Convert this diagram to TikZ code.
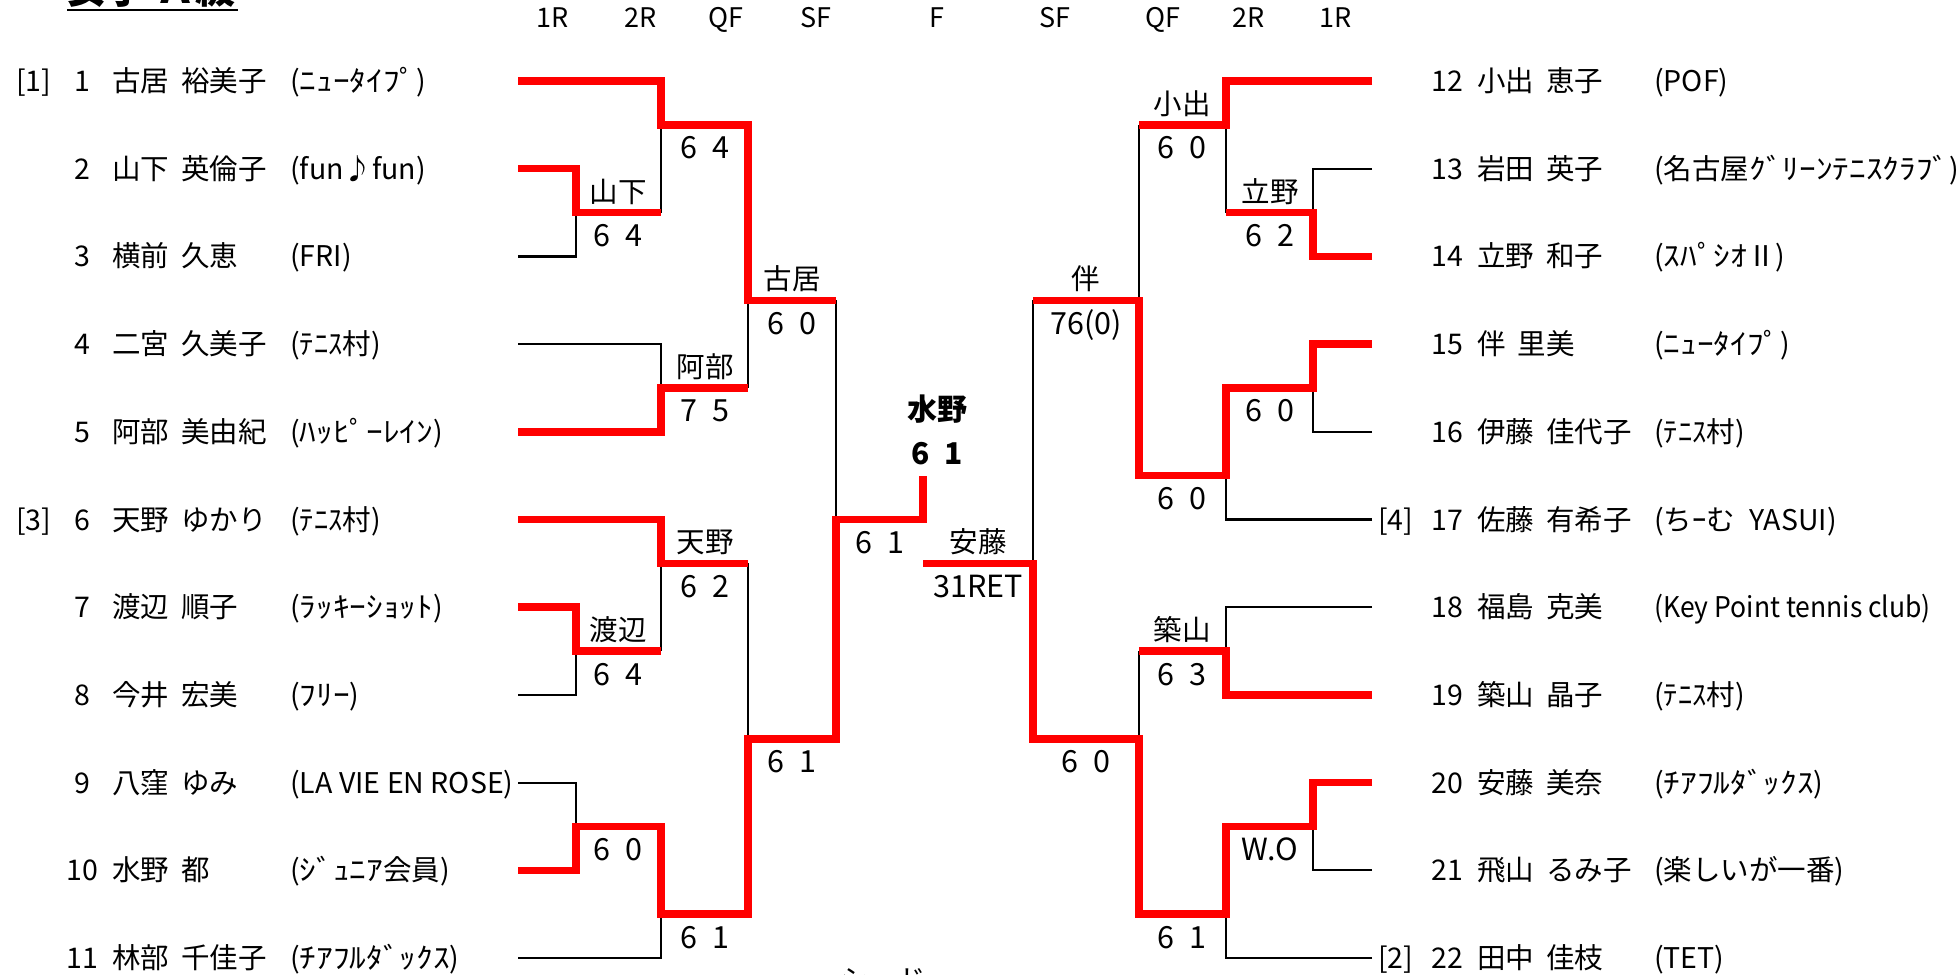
\documentclass[tikz,border=0pt]{standalone}
\usepackage{fontspec}
\setmainfont{Noto Sans CJK JP}
\newcommand\ky[1]{81+43.85*#1}
\newcommand\gap{\hspace{12pt}}
\newcommand\sg[2]{#1\hspace{15pt}#2}
\newcommand\hw[1]{\scalebox{1.17}[1]{#1}}
\tikzset{
  redl/.style={draw=red, line width=7.5pt, line join=miter},
  blkl/.style={draw=black, line width=2.2pt},
  nm/.style={anchor=base west, inner sep=0pt, font=\fontsize{28.5}{30}\selectfont},
  num/.style={anchor=base, inner sep=0pt, font=\fontsize{28.5}{30}\selectfont},
  lab/.style={anchor=base, inner sep=0pt, font=\fontsize{28.5}{30}\selectfont},
  scr/.style={anchor=base, inner sep=0pt, font=\fontsize{30.5}{32}\selectfont},
  hdr/.style={anchor=base, inner sep=0pt, font=\fontsize{27}{29}\selectfont},
  fin/.style={anchor=base, inner sep=0pt, font=\bfseries\fontsize{30}{32}\selectfont},
}
\begin{document}
\begin{tikzpicture}[x=1pt,y=-1pt]
\useasboundingbox (0,0) rectangle (1956,974);
% title (cropped at top)
\node[anchor=base west, inner sep=0pt, font=\bfseries\fontsize{40}{42}\selectfont] (title) at (66,4) {女子 Ａ級};
\draw[line width=2pt] (67,10.5) -- (238,10.5);
% bottom cropped text
\node[anchor=base west, inner sep=0pt, font=\fontsize{28.5}{30}\selectfont] (seed) at (840,990) {シード};
% headers
\node[hdr] (h1) at (553,28) {1R};
\node[hdr] (h2) at (641,28) {2R};
\node[hdr] (h3) at (726,28) {QF};
\node[hdr] (h4) at (816,28) {SF};
\node[hdr] (h5) at (937,28) {F};
\node[hdr] (h6) at (1055,28) {SF};
\node[hdr] (h7) at (1163,28) {QF};
\node[hdr] (h8) at (1249,28) {2R};
\node[hdr] (h9) at (1336,28) {1R};
% left players
\node[nm] (sd1) at (16,\ky{0}+10.5) {[1]};
\node[nm] (sd6) at (16,\ky{10}+10.5) {[3]};
\foreach \i/\n/\c in {
  1/{古居\gap 裕美子}/{(\hw{ﾆｭｰﾀｲﾌﾟ})},
  2/{山下\gap 英倫子}/{(fun♪fun)},
  3/{横前\gap 久恵}/{(FRI)},
  4/{二宮\gap 久美子}/{(ﾃﾆｽ村)},
  5/{阿部\gap 美由紀}/{(\hw{ﾊｯﾋﾟｰﾚｲﾝ})},
  6/{天野\gap ゆかり}/{(ﾃﾆｽ村)},
  7/{渡辺\gap 順子}/{(\hw{ﾗｯｷｰｼｮｯﾄ})},
  8/{今井\gap 宏美}/{(\hw{ﾌﾘｰ})},
  9/{八窪\gap ゆみ}/{(LA VIE EN ROSE)},
  10/{水野\gap 都}/{(\hw{ｼﾞｭﾆｱ}会員)},
  11/{林部\gap 千佳子}/{(\hw{ﾁｱﾌﾙﾀﾞｯｸｽ})}}{
  \node[num] (no\i) at (82,{81+87.7*(\i-1)+10.5}) {\i};
  \node[nm] (na\i) at (112,{81+87.7*(\i-1)+10.5}) {\n};
  \node[nm] (cl\i) at (290,{81+87.7*(\i-1)+10.5}) {\c};
}
% right players
\node[nm] (sd17) at (1378,\ky{10}+10.5) {[4]};
\node[nm] (sd22) at (1378,\ky{20}+10.5) {[2]};
\foreach \i/\n/\c in {
  12/{小出\gap 恵子}/{(POF)},
  13/{岩田\gap 英子}/{(名古屋\hw{ｸﾞﾘｰﾝﾃﾆｽｸﾗﾌﾞ})},
  14/{立野\gap 和子}/{(\hw{ｽﾊﾟｼｵ}Ⅱ)},
  15/{伴\gap 里美}/{(\hw{ﾆｭｰﾀｲﾌﾟ})},
  16/{伊藤\gap 佳代子}/{(ﾃﾆｽ村)},
  17/{佐藤\gap 有希子}/{(ちｰむ\hspace{14pt}YASUI)},
  18/{福島\gap 克美}/{\scalebox{0.93}[1]{(Key Point tennis club)}},
  19/{築山\gap 晶子}/{(ﾃﾆｽ村)},
  20/{安藤\gap 美奈}/{(\hw{ﾁｱﾌﾙﾀﾞｯｸｽ})},
  21/{飛山\gap るみ子}/{(楽しいが一番)},
  22/{田中\gap 佳枝}/{(TET)}}{
  \node[nm] (no\i) at (1431,{81+87.7*(\i-12)+10.5}) {\i};
  \node[nm] (na\i) at (1477,{81+87.7*(\i-12)+10.5}) {\n};
  \node[nm] (cl\i) at (1654,{81+87.7*(\i-12)+10.5}) {\c};
}
% row line ends
\foreach \i in {1,...,11} {\coordinate (p\i) at (518,{81+87.7*(\i-1)});}
\foreach \i in {12,...,22} {\coordinate (p\i) at (1372,{81+87.7*(\i-12)});}
% left junctions
\coordinate (A1) at (576,\ky{3});
\coordinate (A2) at (576,\ky{13});
\coordinate (A3) at (576,\ky{17});
\coordinate (B1) at (661,\ky{1});
\coordinate (B2) at (661,\ky{7});
\coordinate (B3) at (661,\ky{11});
\coordinate (B4) at (661,\ky{19});
\coordinate (Q1) at (748,\ky{5});
\coordinate (Q2) at (748,\ky{15});
\coordinate (S1) at (836,\ky{10});
\coordinate (F1) at (923,\ky{9});
% right junctions
\coordinate (RA1) at (1313,\ky{3});
\coordinate (RA2) at (1313,\ky{7});
\coordinate (RA3) at (1313,\ky{17});
\coordinate (RB1) at (1226,\ky{1});
\coordinate (RB2) at (1226,\ky{9});
\coordinate (RB3) at (1226,\ky{13});
\coordinate (RB4) at (1226,\ky{19});
\coordinate (RQ1) at (1139,\ky{5});
\coordinate (RQ2) at (1139,\ky{15});
\coordinate (RS1) at (1033,\ky{11});
\coordinate (RF) at (923,\ky{11});
% black (losing) lines
\draw[blkl] (p3) -| (A1);
\draw[blkl] (A1 -| B1) -- (B1);
\draw[blkl] (p4) -| (B2);
\draw[blkl] (B2 -| Q1) -- (Q1);
\draw[blkl] (Q1 -| S1) -- (S1);
\draw[blkl] (B3 -| Q2) -- (Q2);
\draw[blkl] (p8) -| (A2);
\draw[blkl] (A2 -| B3) -- (B3);
\draw[blkl] (p9) -| (A3);
\draw[blkl] (p11) -| (B4);
\draw[blkl] (RB1 -| RQ1) -- (RQ1);
\draw[blkl] (p13) -| (RA1);
\draw[blkl] (RA1 -| RB1) -- (RB1);
\draw[blkl] (RQ1 -| RS1) -- (RS1);
\draw[blkl] (p16) -| (RA2);
\draw[blkl] (p17) -| (RB2);
\draw[blkl] (p18) -| (RB3);
\draw[blkl] (RB3 -| RQ2) -- (RQ2);
\draw[blkl] (p21) -| (RA3);
\draw[blkl] (p22) -| (RB4);
% red (winning) lines
\draw[redl] (p1) -| (B1) -- (B1 -| Q1) -- (Q1) -- (Q1 -| S1);
\draw[redl] (p2) -| (A1) -- (A1 -| B1);
\draw[redl] (p5) -| (B2) -- (B2 -| Q1);
\draw[redl] (p6) -| (B3) -- (B3 -| Q2);
\draw[redl] (p7) -| (A2) -- (A2 -| B3);
\draw[redl] (p10) -| (A3) -- (A3 -| B4) -- (B4) -- (B4 -| Q2) -- (Q2) -- (Q2 -| S1) -- (S1) -- (S1 -| F1) -- (F1);
\draw[redl] (p12) -| (RB1) -- (RB1 -| RQ1);
\draw[redl] (p14) -| (RA1) -- (RA1 -| RB1);
\draw[redl] (p15) -| (RA2) -- (RA2 -| RB2) -- (RB2) -- (RB2 -| RQ1) -- (RQ1) -- (RQ1 -| RS1);
\draw[redl] (p19) -| (RB3) -- (RB3 -| RQ2);
\draw[redl] (p20) -| (RA3) -- (RA3 -| RB4) -- (RB4) -- (RB4 -| RQ2) -- (RQ2) -- (RQ2 -| RS1) -- (RS1) -- (RF);
% left labels
\node[lab] (w1) at (618,\ky{3}-10.5) {山下};
\node[scr] (s1) at (618,\ky{3}+34) {\sg64};
\node[scr] (s2) at (705,\ky{1}+34) {\sg64};
\node[lab] (w3) at (705,\ky{7}-10.5) {阿部};
\node[scr] (s3) at (705,\ky{7}+34) {\sg75};
\node[lab] (w4) at (792,\ky{5}-10.5) {古居};
\node[scr] (s4) at (792,\ky{5}+34) {\sg60};
\node[lab] (w5) at (705,\ky{11}-10.5) {天野};
\node[scr] (s5) at (705,\ky{11}+34) {\sg62};
\node[lab] (w6) at (618,\ky{13}-10.5) {渡辺};
\node[scr] (s6) at (618,\ky{13}+34) {\sg64};
\node[scr] (s7) at (618,\ky{17}+34) {\sg60};
\node[scr] (s8) at (705,\ky{19}+34) {\sg61};
\node[scr] (s9) at (792,\ky{15}+34) {\sg61};
\node[scr] (s10) at (880,\ky{10}+34) {\sg61};
\node[fin] (fw) at (937,420) {水野};
\node[fin] (fs) at (937,464) {\sg61};
% right labels
\node[lab] (rw1) at (1182,\ky{1}-10.5) {小出};
\node[scr] (rs1) at (1182,\ky{1}+34) {\sg60};
\node[lab] (rw2) at (1270,\ky{3}-10.5) {立野};
\node[scr] (rs2) at (1270,\ky{3}+34) {\sg62};
\node[scr] (rs3) at (1270,\ky{7}+34) {\sg60};
\node[scr] (rs4) at (1182,\ky{9}+34) {\sg60};
\node[lab] (rw5) at (1086,\ky{5}-10.5) {伴};
\node[scr] (rs5) at (1086,\ky{5}+34) {76(0)};
\node[lab] (rw6) at (1182,\ky{13}-10.5) {築山};
\node[scr] (rs6) at (1182,\ky{13}+34) {\sg63};
\node[scr] (rs7) at (1270,\ky{17}+34) {W.O};
\node[scr] (rs8) at (1182,\ky{19}+34) {\sg61};
\node[scr] (rs9) at (1086,\ky{15}+34) {\sg60};
\node[lab] (rw10) at (978,\ky{11}-10.5) {安藤};
\node[scr] (rs10) at (978,\ky{11}+34) {31RET};
\end{tikzpicture}
\end{document}
